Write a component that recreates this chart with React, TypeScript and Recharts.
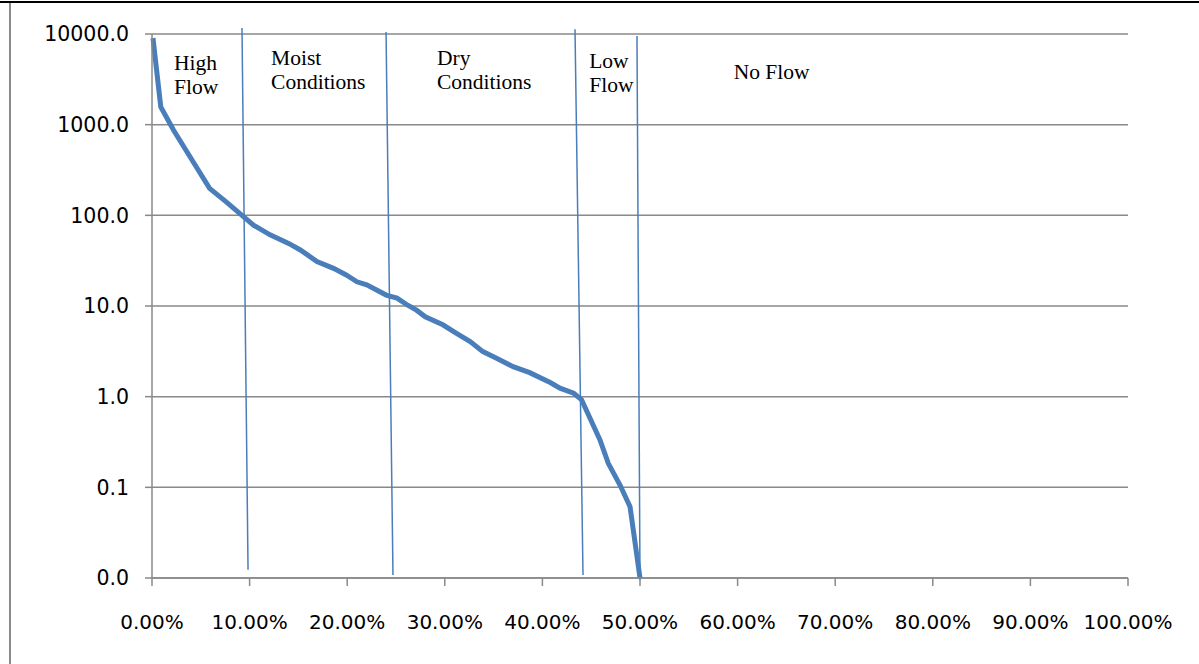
import React from "react";
import {
  LineChart,
  Line,
  XAxis,
  YAxis,
  CartesianGrid,
  ReferenceLine,
  ReferenceDot,
} from "recharts";

// Flow duration curve: percent of time exceeded vs flow
const exceedancePct = [
  0.1, 0.9, 2.2, 4.1, 5.9, 7.6, 9.4, 10.4, 12.1, 14.0, 15.2, 16.9, 18.6, 19.9,
  21.0, 22.0, 24.0, 25.1, 26.2, 27.1, 28.0, 29.8, 31.2, 32.6, 33.9, 35.3, 37.0,
  38.7, 40.8, 41.8, 43.2, 44.0, 45.9, 46.75, 47.95, 48.98, 50.0,
];
const flowValues = [
  9000, 1570, 873, 408, 198, 141, 96, 78, 61, 49, 41.5, 31, 26, 22, 18.5, 17.1,
  13.2, 12.2, 10.2, 9.0, 7.6, 6.2, 5.0, 4.05, 3.14, 2.65, 2.14, 1.84, 1.43, 1.24,
  1.09, 0.93, 0.333, 0.184, 0.106, 0.061, 0.01,
];

const xTicks = [0, 10, 20, 30, 40, 50, 60, 70, 80, 90, 100];
const yTicks = [0.01, 0.1, 1, 10, 100, 1000, 10000];

// Zone divider lines (slightly slanted)
const dividerTopX = [9.22, 23.98, 43.34, 49.69];
const dividerTopY = [11650, 10520, 11290, 9505];
const dividerBottomX = [9.84, 24.69, 44.16, 50.0];
const dividerBottomY = [0.0123, 0.0108, 0.0108, 0.0095];

// Zone labels
const zoneLines = [["High", "Flow"], ["Moist", "Conditions"], ["Dry", "Conditions"], ["Low", "Flow"], ["No Flow"]];
const zoneX = [2.25, 12.2, 29.2, 44.8, 59.6];
const zoneY = [4010, 4550, 4550, 4220, 3190];

const data = exceedancePct.map((x, i) => ({ x, flow: flowValues[i] }));

const BLUE = "#4a7ebb";
const GRAY = "#898989";

const makeLabel = (lines: string[]) => (props: any) => {
  const vb = props.viewBox || {};
  const x = vb.x ?? 0;
  const y = vb.y ?? 0;
  return (
    <text
      x={x}
      y={y}
      fontFamily="'Liberation Serif', 'Times New Roman', serif"
      fontSize={21.5}
      fill="#000"
    >
      {lines.map((l, i) => (
        <tspan key={i} x={x} dy={i === 0 ? 0 : 24}>
          {l}
        </tspan>
      ))}
    </text>
  );
};

export default function App() {
  return (
    <div
      style={{
        position: "absolute",
        left: 0,
        top: 0,
        width: 1199,
        height: 664,
        background: "#fff",
        overflow: "hidden",
      }}
    >
      <div style={{ position: "absolute", left: 0, top: 1, width: 1199, height: 2, background: "#000" }} />
      <div style={{ position: "absolute", left: 9, top: 3, width: 2, height: 661, background: "#8a8a8a" }} />
      <LineChart
        width={1199}
        height={664}
        data={data}
        margin={{ top: 34, right: 71, bottom: 56, left: 0 }}
        style={{ position: "absolute", left: 0, top: 0 }}
      >
        <CartesianGrid vertical={false} stroke={GRAY} strokeWidth={1.5} />
        <XAxis
          dataKey="x"
          type="number"
          domain={[0, 100]}
          ticks={xTicks}
          interval={0}
          tickFormatter={(v: number) => `${v.toFixed(2)}%`}
          height={30}
          tickSize={8}
          tickMargin={29}
          axisLine={{ stroke: GRAY, strokeWidth: 1.5 }}
          tickLine={{ stroke: GRAY, strokeWidth: 1.5 }}
          tick={{ fill: "#000", fontSize: 20, fontFamily: "'DejaVu Sans', sans-serif" }}
        />
        <YAxis
          scale="log"
          domain={[0.01, 10000]}
          ticks={yTicks}
          interval={0}
          allowDataOverflow
          width={152}
          tickFormatter={(v: number) => v.toFixed(1)}
          tickSize={7}
          tickMargin={16}
          axisLine={{ stroke: GRAY, strokeWidth: 1.5 }}
          tickLine={{ stroke: GRAY, strokeWidth: 1.5 }}
          tick={{ fill: "#000", fontSize: 20.5, fontFamily: "'DejaVu Sans', sans-serif" }}
        />
        {dividerTopX.map((xt, i) => (
          <ReferenceLine
            key={`d${i}`}
            segment={[
              { x: xt, y: dividerTopY[i] },
              { x: dividerBottomX[i], y: dividerBottomY[i] },
            ]}
            stroke={BLUE}
            strokeWidth={1.5}
            ifOverflow="visible"
          />
        ))}
        <Line
          type="linear"
          dataKey="flow"
          stroke={BLUE}
          strokeWidth={5}
          dot={false}
          isAnimationActive={false}
        />
        {zoneX.map((zx, i) => (
          <ReferenceDot
            key={`z${i}`}
            x={zx}
            y={zoneY[i]}
            r={0}
            fill="none"
            stroke="none"
            ifOverflow="visible"
            label={{ content: makeLabel(zoneLines[i]) }}
          />
        ))}
      </LineChart>
    </div>
  );
}
